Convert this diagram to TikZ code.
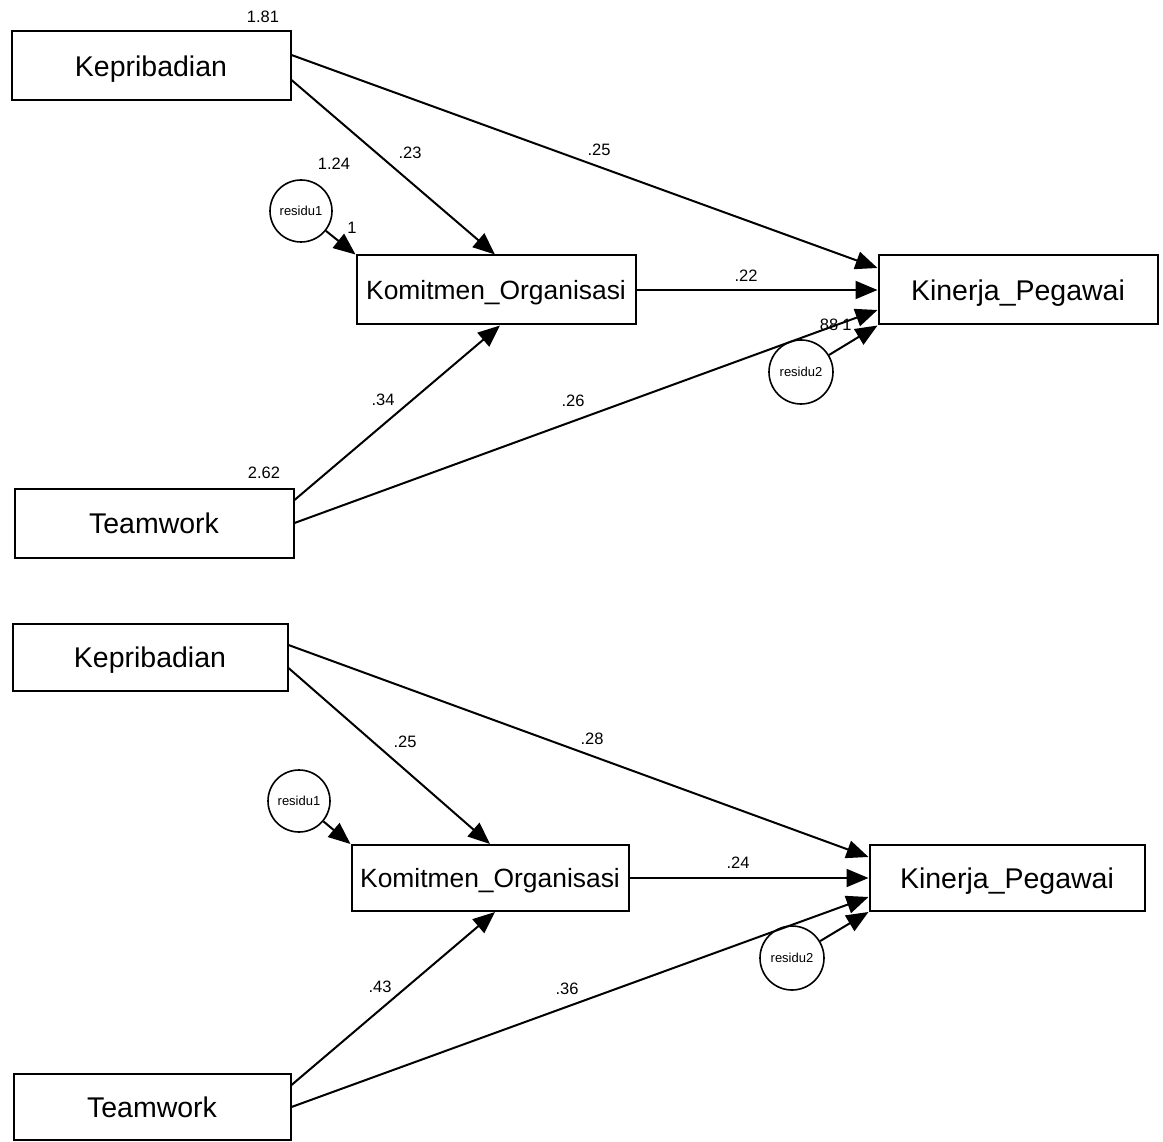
\documentclass[tikz,border=0pt]{standalone}
\usepackage{fontspec}
\setmainfont{Liberation Sans}
\usetikzlibrary{arrows.meta}
\begin{document}
\begin{tikzpicture}[x=1pt,y=-1pt,
  box/.style={draw,line width=2pt,minimum width=279pt,minimum height=69pt,inner sep=0pt,text depth=0pt,font=\fontsize{28.5}{31}\selectfont},
  boxs/.style={box,font=\fontsize{26.4}{29}\selectfont},
  res/.style={draw,circle,line width=1.6pt,minimum size=62pt,inner sep=0pt,font=\fontsize{13}{15}\selectfont},
  path/.style={line width=2pt,-{Triangle[length=22pt,width=18pt]}},
  lab/.style={inner sep=0pt,font=\fontsize{16.5}{18}\selectfont}]
\useasboundingbox (0,0) rectangle (1163,1142);
% ---------- top model ----------
\node[box] (kepA) at (151,66) {Kepribadian};
\node[boxs] (komA) at (496,290) {Komitmen\_Organisasi};
\node[box] (kinA) at (1018,290) {Kinerja\_Pegawai};
\node[box] (twA) at (154,523) {Teamwork};
\node[res] (r1A) at (301,211) {residu1};
\node[res,minimum size=64pt] (r2A) at (801,372) {residu2};
\draw[path] ([yshift=11pt]kepA.east) -- ([yshift=22pt]kinA.west);
\draw[path] ([yshift=-14pt]kepA.east) -- ([xshift=-1pt]komA.north);
\draw[path] (r1A) -- (komA.north west);
\draw[path] (komA.east) -- (kinA.west);
\draw[path] ([yshift=23pt]twA.east) -- ([xshift=4pt]komA.south);
\draw[path] (twA.east) -- ([yshift=-20pt]kinA.west);
\draw[path] (r2A) -- (kinA.south west);
\node[lab] (l181) at (263,17) {1.81};
\node[lab] (l124) at (334,164) {1.24};
\node[lab] (l1a) at (352,228) {1};
\node[lab] (l23) at (410,153) {.23};
\node[lab] (l25) at (599,150) {.25};
\node[lab] (l22) at (746,276) {.22};
\node[lab] (l88) at (829,325) {88};
\node[lab] (l1b) at (847,325) {1};
\node[lab] (l34) at (383,400) {.34};
\node[lab] (l26) at (573,401) {.26};
\node[lab] (l262) at (264,473) {2.62};
% ---------- bottom model ----------
\node[box,minimum width=275pt,minimum height=67pt] (kepB) at (150,657) {Kepribadian};
\node[boxs,minimum width=277pt,minimum height=66pt] (komB) at (490,878) {Komitmen\_Organisasi};
\node[box,minimum width=275pt,minimum height=66pt] (kinB) at (1007,878) {Kinerja\_Pegawai};
\node[box,minimum width=277pt,minimum height=66pt] (twB) at (152,1107) {Teamwork};
\node[res] (r1B) at (299,801) {residu1};
\node[res,minimum size=64pt] (r2B) at (792,958) {residu2};
\draw[path] ([yshift=12pt]kepB.east) -- ([yshift=21pt]kinB.west);
\draw[path] ([yshift=-11pt]kepB.east) -- (komB.north);
\draw[path] (r1B) -- (komB.north west);
\draw[path] (komB.east) -- (kinB.west);
\draw[path] ([yshift=22pt]twB.east) -- ([xshift=5pt]komB.south);
\draw[path] (twB.east) -- ([yshift=-19pt]kinB.west);
\draw[path] (r2B) -- (kinB.south west);
\node[lab] (m25) at (405,742) {.25};
\node[lab] (m28) at (592,739) {.28};
\node[lab] (m24) at (738,863) {.24};
\node[lab] (m43) at (380,987) {.43};
\node[lab] (m36) at (567,989) {.36};
\end{tikzpicture}
\end{document}
